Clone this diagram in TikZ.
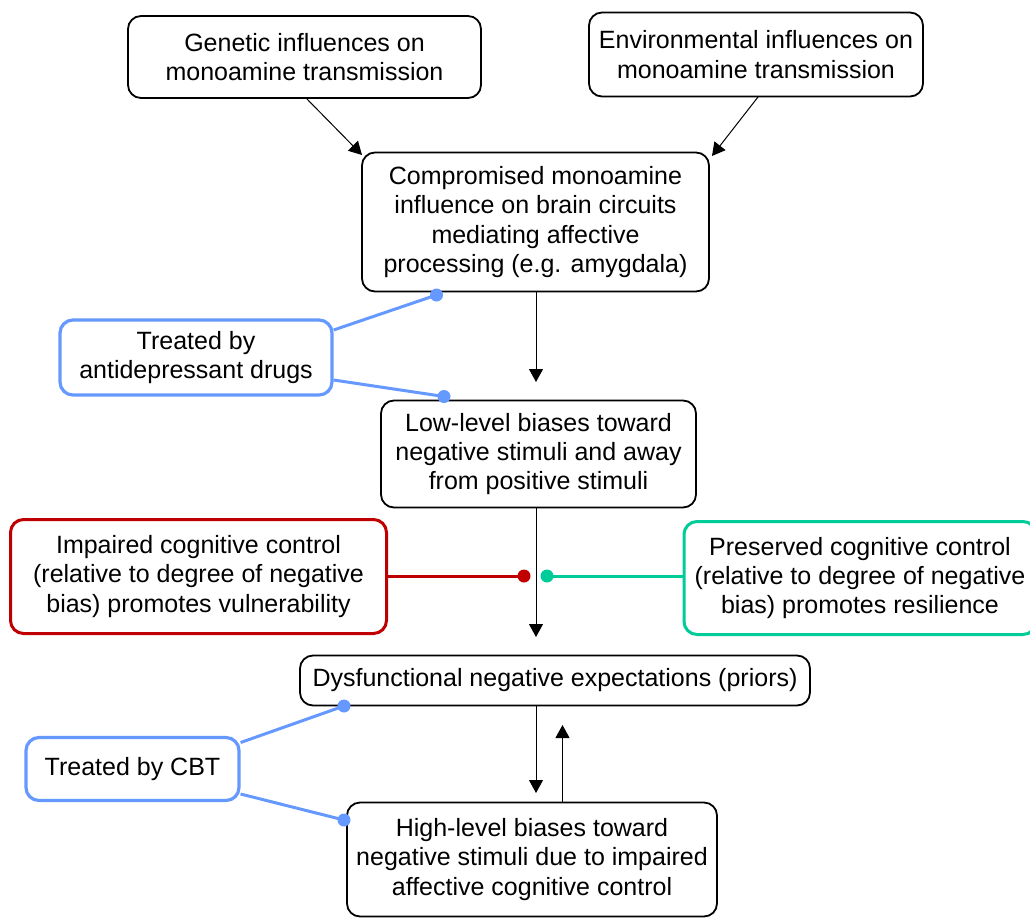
\documentclass[tikz,border=0pt]{standalone}
\usepackage{fontspec}
\setmainfont{Liberation Sans}
\usetikzlibrary{arrows.meta}
\definecolor{myblue}{HTML}{6699FF}
\definecolor{myred}{HTML}{C00000}
\definecolor{mygreen}{HTML}{00CC99}
\tikzset{
  box/.style={draw=black, line width=1.8pt, rounded corners=13pt, align=center, inner sep=0pt,
    font=\fontsize{25}{29.3}\selectfont},
  bluebox/.style={box, draw=myblue, line width=3.2pt},
  redbox/.style={box, draw=myred, line width=3pt},
  greenbox/.style={box, draw=mygreen, line width=3pt},
  arr/.style={line width=1pt, -{Triangle[width=14pt,length=13pt]}},
  dot/.style={circle, inner sep=0pt, minimum size=13pt},
  bline/.style={draw=myblue, line width=3pt},
}
\begin{document}
\begin{tikzpicture}[x=1pt,y=-1pt]
\useasboundingbox[fill=white] (0,0) rectangle (1030,918);
\node[box, minimum width=353pt, minimum height=82pt] (gen) at (304.5,57) {Genetic influences on\\monoamine transmission};
\node[box, minimum width=334pt, minimum height=84pt] (env) at (756,54.5) {Environmental influences on\\monoamine transmission};
\node[box, minimum width=347pt, minimum height=139pt] (comp) at (535.5,222) {Compromised monoamine\\influence on brain circuits\\mediating affective\\processing (e.g. amygdala)};
\node[bluebox, minimum width=272pt, minimum height=75pt] (tad) at (196,357.5) {Treated by\\antidepressant drugs};
\node[box, minimum width=315pt, minimum height=107pt] (low) at (538.5,454) {Low-level biases toward\\negative stimuli and away\\from positive stimuli};
\node[redbox, minimum width=376pt, minimum height=114pt] (imp) at (198.5,576.5) {Impaired cognitive control\\(relative to degree of negative\\bias) promotes vulnerability};
\node[greenbox, minimum width=352pt, minimum height=113pt] (pres) at (860,578) {Preserved cognitive control\\(relative to degree of negative\\bias) promotes resilience};
\node[box, minimum width=510pt, minimum height=50pt] (dys) at (555,680.5) {Dysfunctional negative expectations (priors)};
\node[bluebox, minimum width=213pt, minimum height=63pt] (cbt) at (132.5,769) {Treated by CBT};
\node[box, minimum width=370pt, minimum height=114pt] (high) at (532,859.5) {High-level biases toward\\negative stimuli due to impaired\\affective cognitive control};

% arrows
\coordinate (g1) at (306,98);
\coordinate (g2) at (362,155);
\draw[arr] (g1) -- (g2);
\coordinate (e1) at (758,97);
\coordinate (e2) at (712,156);
\draw[arr] (e1) -- (e2);
\coordinate (c1) at (536,382);
\draw[arr] (comp.south -| c1) -- (c1);
\coordinate (l1) at (536,637);
\draw[arr] (low.south -| l1) -- (l1);
\coordinate (d1) at (536,793);
\draw[arr] (dys.south -| d1) -- (d1);
\coordinate (h1) at (562.5,725);
\draw[arr] (high.north -| h1) -- (h1);

% blue connectors
\node[dot, fill=myblue] (bd1) at (436.5,295) {};
\node[dot, fill=myblue] (bd2) at (444,396.5) {};
\node[dot, fill=myblue] (bd3) at (344,706) {};
\node[dot, fill=myblue] (bd4) at (344,820) {};
\draw[bline] ([yshift=27.5pt]tad.east) -- (bd1.center);
\draw[bline] ([yshift=-22.5pt]tad.east) -- (bd2.center);
\draw[bline] ([yshift=26.5pt]cbt.east) -- (bd3.center);
\draw[bline] ([yshift=-25pt]cbt.east) -- (bd4.center);

% red / green
\node[dot, fill=myred] (rd) at (524,576) {};
\node[dot, fill=mygreen] (gd) at (547,576) {};
\draw[draw=myred, line width=3pt] (imp.east |- rd) -- (rd.center);
\draw[draw=mygreen, line width=3pt] (gd.center) -- (gd -| pres.west);
\end{tikzpicture}
\end{document}
